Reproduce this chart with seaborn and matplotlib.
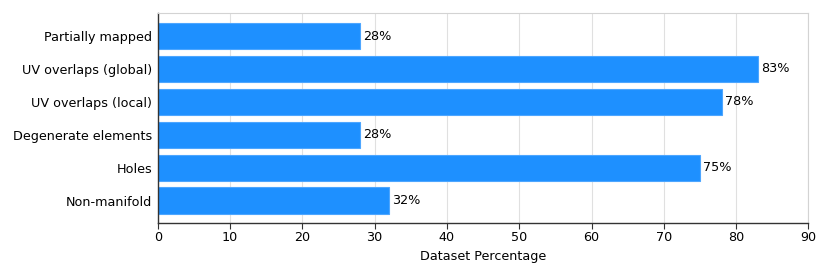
import pandas as pd
import seaborn as sns
import matplotlib.pyplot as plt

# %%
categories = ['Partially mapped', 'UV overlaps (global)', 'UV overlaps (local)',
              'Degenerate elements', 'Holes', 'Non-manifold']
percentages = [28, 83, 78, 28, 75, 32]

df = pd.DataFrame({'Issue': categories, 'Percentage': percentages})

# %%
sns.set_theme(style="whitegrid")
plt.rcParams['font.family'] = ['DejaVu Sans']
plt.rcParams['text.color'] = 'black'
plt.rcParams['axes.labelcolor'] = 'black'
plt.rcParams['xtick.color'] = 'black'
plt.rcParams['ytick.color'] = 'black'

fig, ax = plt.subplots(figsize=(8.3, 2.77), dpi=100)

sns.barplot(x='Percentage', y='Issue', data=df, color='#1E90FF', saturation=1,
            width=0.8, edgecolor='#4da6ff', linewidth=0.8, ax=ax)

for i, val in enumerate(percentages):
    ax.text(val + 0.4, i, f"{val}%", va='center', ha='left', fontsize=9.2, color='black')

ax.set_xlim(0, 90)
ax.set_ylim(5.68, -0.7)
ax.set_xticks(range(0, 91, 10))
ax.set_xlabel('Dataset Percentage', fontsize=9.2, labelpad=4)
ax.set_ylabel('')
ax.grid(axis='x', color='#e0e0e0', linewidth=0.8)
ax.grid(axis='y', visible=False)

for side in ['top', 'right']:
    ax.spines[side].set_color('#d3d3d3')
    ax.spines[side].set_linewidth(0.8)
for side in ['left', 'bottom']:
    ax.spines[side].set_color('#333333')
    ax.spines[side].set_linewidth(1.0)

ax.tick_params(axis='x', bottom=True, length=4, width=0.8, color='#333333', labelsize=9.2, pad=2)
ax.tick_params(axis='y', left=False, length=0, labelsize=9.2, pad=4)

plt.subplots_adjust(left=0.19, right=0.974, top=0.953, bottom=0.195)
plt.savefig('out.png', dpi=100)
